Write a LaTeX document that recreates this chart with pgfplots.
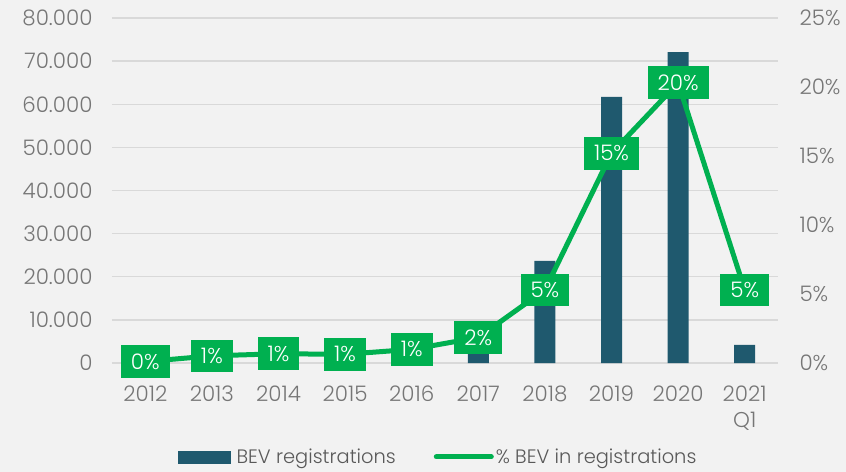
\documentclass[border=0pt]{standalone}
\usepackage{fontspec}
\setmainfont{Poppins Light}
\usepackage{pgfplots}
\pgfplotsset{compat=1.18}
\definecolor{bg}{HTML}{F2F2F2}
\definecolor{barc}{HTML}{1F596E}
\definecolor{grn}{HTML}{00B050}
\definecolor{txt}{HTML}{767676}
\definecolor{legtxt}{HTML}{595959}
\definecolor{gridc}{HTML}{D9D9D9}
\begin{document}
\begin{tikzpicture}[font=\fontsize{21.5}{26}\selectfont]
\fill[bg] (-112bp,-109bp) rectangle (734bp,363bp);
\begin{axis}[
  at={(0,0)}, anchor=south west, scale only axis, width=666bp, height=345bp,
  xmin=-0.5, xmax=9.5, ymin=0, ymax=80000, scaled y ticks=false,
  axis x line*=bottom, axis y line*=left, axis line style={draw=none}, tick style={draw=none},
  ytick={0,10000,20000,30000,40000,50000,60000,70000,80000},
  yticklabels={0,10.000,20.000,30.000,40.000,50.000,60.000,70.000,80.000},
  ymajorgrids, grid style={gridc, line width=1.3bp},
  xtick={0,...,9},
  xticklabels={2012,2013,2014,2015,2016,2017,2018,2019,2020,{2021\\Q1}},
  xticklabel style={align=center, text=txt, yshift=-15bp},
  yticklabel style={text=txt, xshift=-16bp},
  ybar, bar width=21bp,
]
\addplot[fill=barc, draw=none] coordinates {(0,800) (1,2500) (2,3000) (3,2800) (4,4000) (5,8000) (6,23700) (7,61700) (8,72100) (9,4200)};
\end{axis}
\begin{axis}[
  at={(0,0)}, anchor=south west, scale only axis, width=666bp, height=345bp,
  xmin=-0.5, xmax=9.5, ymin=0, ymax=25,
  axis y line*=right, axis x line=none, axis line style={draw=none}, tick style={draw=none},
  ytick={0,5,10,15,20,25},
  yticklabels={0\%,5\%,10\%,15\%,20\%,25\%},
  yticklabel style={text=txt, xshift=18bp},
  legend style={at={(0.49,-0.272)}, anchor=center, draw=none, fill=none, legend columns=2,
    /tikz/every even column/.append style={column sep=36bp}, text=legtxt,
    font=\fontsize{19.5}{24}\selectfont},
]
\addlegendimage{legend image code/.code={\fill[barc] (0bp,-6bp) rectangle (52bp,6bp);}}
\addlegendentry{\hspace{4bp}BEV registrations}
\addplot[grn, line width=5bp, point meta=explicit symbolic, nodes near coords, nodes near coords align=center,
  every node near coord/.style={fill=grn, text=white, inner xsep=10bp, inner ysep=8.5bp, anchor=center},
  legend image code/.code={\draw[grn, line width=5bp, line cap=round] (0bp,0bp) -- (55bp,0bp);}]
  coordinates {(0,0.1) [0\%] (1,0.52) [1\%] (2,0.67) [1\%] (3,0.63) [1\%] (4,0.99) [1\%] (5,1.85) [2\%] (6,5.3) [5\%] (7,15.2) [15\%] (8,20.3) [20\%] (9,5.3) [5\%]};
\addlegendentry{\% BEV in registrations}
\end{axis}
\end{tikzpicture}
\end{document}
